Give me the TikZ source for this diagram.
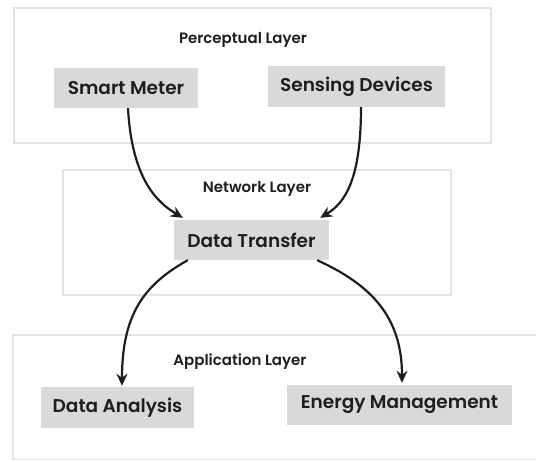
\documentclass[tikz,border=0pt]{standalone}
\usepackage{fontspec}
\setmainfont{Poppins}[UprightFont=* Medium, BoldFont=* SemiBold]
\usetikzlibrary{arrows.meta}
\definecolor{framegray}{HTML}{E3E3E3}
\definecolor{boxgray}{HTML}{D9D9D9}
\definecolor{ink}{HTML}{1E1E1E}
\begin{document}
\begin{tikzpicture}[x=1pt,y=-1pt,
  layer/.style={draw=framegray,line width=1.4pt},
  title/.style={font=\fontsize{15}{17}\selectfont\bfseries,text=ink},
  unit/.style={fill=boxgray,text=ink,font=\fontsize{18.5}{21}\selectfont\bfseries,inner sep=0pt},
  flow/.style={draw=ink,line width=2.2pt,-{Stealth[length=12pt,width=11pt]}}]
\useasboundingbox (0,0) rectangle (536,461);
% layer frames
\draw[layer] (14,8) rectangle (491,143);
\draw[layer] (63,170) rectangle (451,295);
\draw[layer] (13,335) rectangle (545,459.5);
% layer titles
\node[title] (tp) at (243,40) {Perceptual Layer};
\node[title] (tn) at (257,189) {Network Layer};
\node[title] (ta) at (240,362) {Application Layer};
% components
\node[unit,minimum width=144pt,minimum height=40pt] (sm) at (126,88) {Smart Meter};
\node[unit,minimum width=177pt,minimum height=41pt] (sd) at (356.5,86.5) {Sensing Devices};
\node[unit,minimum width=155pt,minimum height=40pt] (dt) at (251.5,240) {Data Transfer};
\node[unit,minimum width=153pt,minimum height=41pt] (da) at (117.5,407.5) {Data Analysis};
\node[unit,minimum width=225pt,minimum height=40pt] (em) at (399.5,405) {Energy Management};
% data flow
\coordinate (dtinl) at ([xshift=9pt,yshift=2pt]dt.north west);
\coordinate (dtinr) at ([xshift=-9pt,yshift=2pt]dt.north east);
\coordinate (dtoutl) at ([xshift=14pt]dt.south west);
\coordinate (dtoutr) at ([xshift=-12pt]dt.south east);
\coordinate (dain) at ([xshift=4.5pt,yshift=1pt]da.north);
\coordinate (emin) at ([xshift=2.5pt,yshift=2pt]em.north);
\draw[flow] ([xshift=2pt]sm.south) .. controls +(4,72) and +(-25,-15) .. (dtinl);
\draw[flow] ([xshift=4.5pt]sd.south) .. controls +(0,72) and +(25,-15) .. (dtinr);
\draw[flow] (dtoutl) .. controls +(-45,25) and +(0,-70) .. (dain);
\draw[flow] (dtoutr) .. controls +(55,25) and +(0,-65) .. (emin);
\end{tikzpicture}
\end{document}
